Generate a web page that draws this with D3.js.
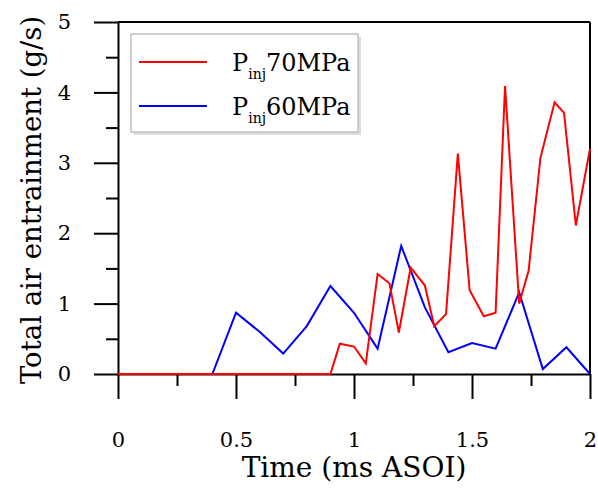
<!doctype html>
<html>
<head>
<meta charset="utf-8">
<title>Total air entrainment</title>
<style>
  body { margin: 0; background: #fff; }
  svg text { font-family: "DejaVu Serif", "Liberation Serif", serif; fill: #000; }
  .axis path, .axis line { stroke: #000; stroke-width: 2; }
  .line { fill: none; stroke-width: 2; }
</style>
</head>
<body>
<div id="chart"></div>
<script src="https://d3js.org/d3.v7.min.js"></script>
<script>
// data
var time70 = [0, 0.90, 0.94, 1.00, 1.05, 1.10, 1.15, 1.19, 1.24, 1.30, 1.34, 1.39, 1.44, 1.49, 1.55, 1.60, 1.64, 1.70, 1.74, 1.79, 1.85, 1.89, 1.94, 2.00];
var air70  = [0, 0,    0.43, 0.39, 0.15, 1.42, 1.29, 0.59, 1.51, 1.26, 0.68, 0.85, 3.13, 1.19, 0.82, 0.87, 4.09, 1.00, 1.47, 3.07, 3.86, 3.71, 2.11, 3.20];
var time60 = [0, 0.40, 0.50, 0.60, 0.70, 0.80, 0.90, 1.00, 1.10, 1.20, 1.30, 1.40, 1.50, 1.60, 1.70, 1.80, 1.90, 2.00];
var air60  = [0, 0,    0.87, 0.60, 0.29, 0.68, 1.25, 0.87, 0.36, 1.82, 0.95, 0.31, 0.44, 0.36, 1.16, 0.07, 0.38, 0];
var xTicks = [0, 0.5, 1, 1.5, 2];
var xMinor = [0.25, 0.75, 1.25, 1.75];
var yTicks = [0, 1, 2, 3, 4, 5];
var yMinor = [0.5, 1.5, 2.5, 3.5, 4.5];
var seriesNames = ["70MPa", "60MPa"];
var seriesColors = ["#ff0000", "#0000ff"];

var W = 598, H = 491;
var margin = { top: 22, right: 8, bottom: 117, left: 118 };
var width = W - margin.left - margin.right,
    height = H - margin.top - margin.bottom;

var svg = d3.select("#chart").append("svg")
    .attr("width", W)
    .attr("height", H);

var g = svg.append("g")
    .attr("transform", "translate(" + margin.left + "," + margin.top + ")");

var x = d3.scaleLinear().domain([0, 2]).range([0, width]);
var y = d3.scaleLinear().domain([0, 5]).range([height, 0]);

// frame top and right
g.append("line").attr("x1", 0).attr("x2", width).attr("y1", 0).attr("y2", 0)
    .attr("stroke", "#000").attr("stroke-width", 2);
g.append("line").attr("x1", width).attr("x2", width).attr("y1", 0).attr("y2", height)
    .attr("stroke", "#000").attr("stroke-width", 2);

// minor ticks
g.append("g").attr("class", "axis")
    .attr("transform", "translate(0," + height + ")")
    .call(d3.axisBottom(x).tickValues(xMinor).tickSize(12).tickFormat(""))
    .select(".domain").remove();
g.append("g").attr("class", "axis")
    .call(d3.axisLeft(y).tickValues(yMinor).tickSize(12).tickFormat(""))
    .select(".domain").remove();

// major axes
g.append("g").attr("class", "axis")
    .attr("transform", "translate(0," + height + ")")
    .call(d3.axisBottom(x).tickValues(xTicks).tickSize(25).tickSizeOuter(0).tickPadding(33)
        .tickFormat(d3.format("")));
g.append("g").attr("class", "axis")
    .call(d3.axisLeft(y).tickValues(yTicks).tickSize(24).tickSizeOuter(0).tickPadding(23)
        .tickFormat(d3.format("")));
svg.selectAll(".axis text").attr("font-size", 21);

// lines
var line = d3.line().x(function (d) { return x(d[0]); }).y(function (d) { return y(d[1]); });
var data70 = time70.map(function (t, i) { return [t, air70[i]]; });
var data60 = time60.map(function (t, i) { return [t, air60[i]]; });

g.append("path").datum(data60).attr("class", "line")
    .attr("stroke", seriesColors[1]).attr("d", line);
g.append("path").datum(data70).attr("class", "line")
    .attr("stroke", seriesColors[0]).attr("d", line);

// axis titles
svg.append("text")
    .attr("x", 354)
    .attr("y", 477)
    .attr("text-anchor", "middle")
    .attr("font-size", 28)
    .text("Time (ms ASOI)");
svg.append("text")
    .attr("transform", "translate(41," + (margin.top + height / 2 + 2) + ") rotate(-90)")
    .attr("text-anchor", "middle")
    .attr("font-size", 27.5)
    .text("Total air entrainment (g/s)");

// legend
var lg = svg.append("g").attr("transform", "translate(131,34)");
lg.append("rect").attr("x", 3).attr("y", 3).attr("width", 227).attr("height", 98)
    .attr("fill", "#dcdcdc");
lg.append("rect").attr("width", 227).attr("height", 98)
    .attr("fill", "#fff").attr("stroke", "#c0c0c0").attr("stroke-width", 1.5);
seriesNames.forEach(function (name, i) {
    var yy = 28 + i * 44;
    lg.append("line").attr("x1", 8).attr("x2", 76).attr("y1", yy).attr("y2", yy)
        .attr("stroke", seriesColors[i]).attr("stroke-width", 2);
    var t = lg.append("text").attr("x", 101).attr("y", yy + 9).attr("font-size", 24);
    t.append("tspan").text("P");
    t.append("tspan").attr("font-size", 14).attr("dy", 8).text("inj");
    t.append("tspan").attr("dy", -8).text(name);
});
</script>
</body>
</html>
